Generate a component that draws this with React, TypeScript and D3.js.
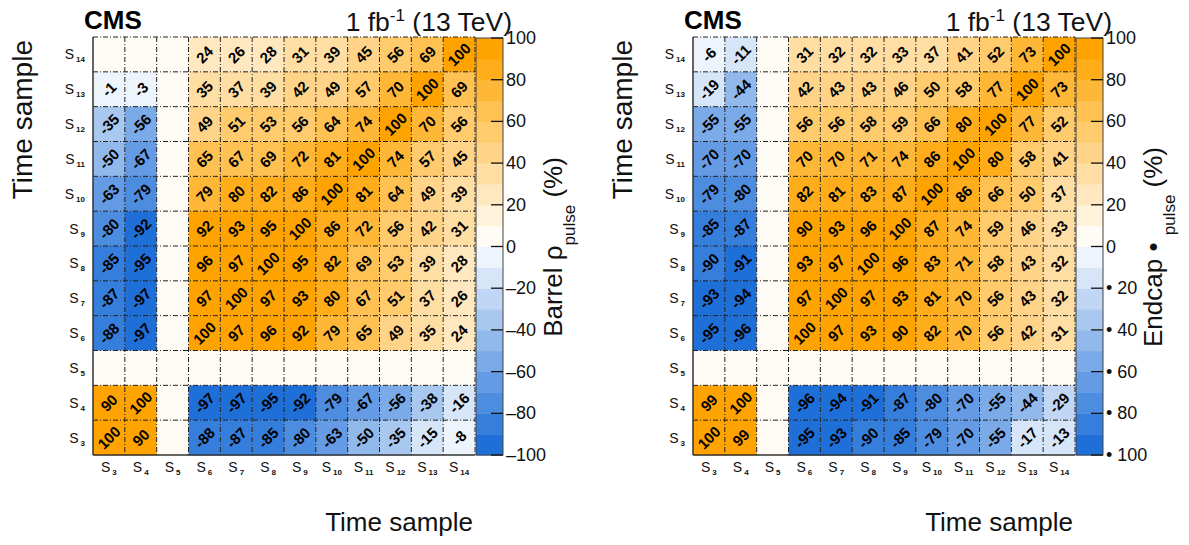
import React from "react";
import * as d3 from "d3";

// ---------- data ----------
const TIME_SAMPLES = ["3", "4", "5", "6", "7", "8", "9", "10", "11", "12", "13", "14"];
const ROWS_TOP_DOWN = [...TIME_SAMPLES].reverse();

// rows from S14 (top) to S3 (bottom), columns S3..S14
const BARREL_VALUES: number[][] = [
  [0, 0, 0, 24, 26, 28, 31, 39, 45, 56, 69, 100],
  [-1, -3, 0, 35, 37, 39, 42, 49, 57, 70, 100, 69],
  [-35, -56, 0, 49, 51, 53, 56, 64, 74, 100, 70, 56],
  [-50, -67, 0, 65, 67, 69, 72, 81, 100, 74, 57, 45],
  [-63, -79, 0, 79, 80, 82, 86, 100, 81, 64, 49, 39],
  [-80, -92, 0, 92, 93, 95, 100, 86, 72, 56, 42, 31],
  [-85, -95, 0, 96, 97, 100, 95, 82, 69, 53, 39, 28],
  [-87, -97, 0, 97, 100, 97, 93, 80, 67, 51, 37, 26],
  [-88, -97, 0, 100, 97, 96, 92, 79, 65, 49, 35, 24],
  [0, 0, 0, 0, 0, 0, 0, 0, 0, 0, 0, 0],
  [90, 100, 0, -97, -97, -95, -92, -79, -67, -56, -38, -16],
  [100, 90, 0, -88, -87, -85, -80, -63, -50, -35, -15, -8],
];

const ENDCAP_VALUES: number[][] = [
  [-6, -11, 0, 31, 32, 32, 33, 37, 41, 52, 73, 100],
  [-19, -44, 0, 42, 43, 43, 46, 50, 58, 77, 100, 73],
  [-55, -55, 0, 56, 56, 58, 59, 66, 80, 100, 77, 52],
  [-70, -70, 0, 70, 70, 71, 74, 86, 100, 80, 58, 41],
  [-79, -80, 0, 82, 81, 83, 87, 100, 86, 66, 50, 37],
  [-85, -87, 0, 90, 93, 96, 100, 87, 74, 59, 46, 33],
  [-90, -91, 0, 93, 97, 100, 96, 83, 71, 58, 43, 32],
  [-93, -94, 0, 97, 100, 97, 93, 81, 70, 56, 43, 32],
  [-95, -96, 0, 100, 97, 93, 90, 82, 70, 56, 42, 31],
  [0, 0, 0, 0, 0, 0, 0, 0, 0, 0, 0, 0],
  [99, 100, 0, -96, -94, -91, -87, -80, -70, -55, -44, -29],
  [100, 99, 0, -95, -93, -90, -85, -79, -70, -55, -17, -13],
];

const COLORBAR_TICKS = [100, 80, 60, 40, 20, 0, -20, -40, -60, -80, -100];
const BIN_STARTS = d3.range(-100, 100, 10);

const FONT = "'Liberation Sans', Arial, Helvetica, sans-serif";

const posColor = d3.interpolateRgb("#fffcf6", "#ffa300");
const negColor = d3.interpolateRgb("#eef4fc", "#1f6fd8");
function binColor(v: number): string {
  const b = Math.max(-10, Math.min(9, Math.floor(v / 10)));
  return b >= 0 ? posColor(b / 9) : negColor((-b - 1) / 9);
}

type PanelProps = {
  ox: number;
  values: number[][];
  titleMain: string;
  negLabel: (n: number) => string;
};

function Panel({ ox, values, titleMain, negLabel }: PanelProps) {
  const x0 = ox + 93, x1 = ox + 475, y0 = 37, y1 = 455;
  const xs = d3.scaleBand<string>().domain(TIME_SAMPLES).range([x0, x1]);
  const ys = d3.scaleBand<string>().domain(ROWS_TOP_DOWN).range([y0, y1]);
  const cbL = ox + 476, cbR = ox + 503;
  const cs = d3.scaleLinear().domain([-100, 100]).range([455, 38]);
  const dash = "5 2 1 2";
  const bw = xs.bandwidth(), bh = ys.bandwidth();

  return (
    <g fontFamily={FONT}>
      {/* cells */}
      {values.map((row, ri) =>
        row.map((v, ci) => (
          <rect
            key={`c${ri}-${ci}`}
            x={xs(TIME_SAMPLES[ci])!}
            y={ys(ROWS_TOP_DOWN[ri])!}
            width={bw + 0.5}
            height={bh + 0.5}
            fill={binColor(v)}
          />
        ))
      )}
      {/* grid lines */}
      {TIME_SAMPLES.slice(1).map((s) => (
        <line key={`vx${s}`} x1={xs(s)!} x2={xs(s)!} y1={y0} y2={y1} stroke="#222" strokeWidth={1} strokeDasharray={dash} />
      ))}
      {ROWS_TOP_DOWN.slice(1).map((s) => (
        <line key={`hy${s}`} x1={x0} x2={x1} y1={ys(s)!} y2={ys(s)!} stroke="#222" strokeWidth={1} strokeDasharray={dash} />
      ))}
      <line x1={x0} x2={x1} y1={y0} y2={y0} stroke="#222" strokeWidth={1} strokeDasharray={dash} />
      <line x1={x1} x2={x1} y1={y0} y2={y1} stroke="#222" strokeWidth={1} strokeDasharray={dash} />
      <line x1={x0} x2={x0} y1={y0} y2={y1} stroke="#333" strokeWidth={1.5} />
      <line x1={x0} x2={x1} y1={y1} y2={y1} stroke="#333" strokeWidth={1.5} />
      {/* cell texts */}
      {values.map((row, ri) =>
        row.map((v, ci) => {
          if (v === 0) return null;
          const cx = xs(TIME_SAMPLES[ci])! + bw / 2;
          const cy = ys(ROWS_TOP_DOWN[ri])! + bh / 2;
          return (
            <text
              key={`t${ri}-${ci}`}
              transform={`translate(${cx},${cy}) rotate(-45)`}
              textAnchor="middle"
              dominantBaseline="central"
              fontSize={15}
              fontWeight="bold"
              fill="#000"
            >
              {String(v)}
            </text>
          );
        })
      )}
      {/* y tick labels */}
      {ROWS_TOP_DOWN.map((s) => (
        <text key={`yl${s}`} x={ox + 85} y={ys(s)! + bh / 2 + 5} textAnchor="end" fontSize={14} fill="#111">
          S<tspan fontSize={8} fontWeight="bold" dx={2} dy={3}>{s}</tspan>
        </text>
      ))}
      {/* x tick labels */}
      {TIME_SAMPLES.map((s) => (
        <text key={`xl${s}`} x={xs(s)! + bw / 2} y={472} textAnchor="middle" fontSize={14} fill="#111">
          S<tspan fontSize={8} fontWeight="bold" dx={2} dy={3}>{s}</tspan>
        </text>
      ))}
      {/* colorbar */}
      {BIN_STARTS.map((b) => (
        <rect key={`cb${b}`} x={cbL} y={cs(b + 10)} width={cbR - cbL} height={cs(b) - cs(b + 10) + 0.5} fill={binColor(b + 5)} />
      ))}
      <rect x={cbL} y={cs(100)} width={cbR - cbL} height={cs(-100) - cs(100)} fill="none" stroke="#444" strokeWidth={1} />
      {COLORBAR_TICKS.map((t) => (
        <g key={`tk${t}`}>
          <line x1={cbR - 12} x2={cbR} y1={cs(t)} y2={cs(t)} stroke="#111" strokeWidth={1.3} />
          <text x={cbR + 3} y={cs(t)} dominantBaseline="central" fontSize={18} fill="#111">
            {t < 0 ? negLabel(-t) : String(t)}
          </text>
        </g>
      ))}
      {/* colorbar title */}
      <text transform={`translate(${ox + 562},247) rotate(-90)`} textAnchor="middle" fontSize={26} fill="#111">
        {titleMain}
        <tspan fontSize={17} dy={13}>pulse</tspan>
        <tspan dy={-13}> (%)</tspan>
      </text>
      {/* headers */}
      <text x={ox + 84} y={29} fontSize={26} fontWeight="bold" fill="#000">CMS</text>
      <text x={ox + 512} y={30.5} textAnchor="end" fontSize={26.5} fill="#111">
        1 fb<tspan fontSize={17} dy={-10}>-1</tspan>
        <tspan dy={10}> (13 TeV)</tspan>
      </text>
      {/* axis titles */}
      <text transform={`translate(${ox + 32},40) rotate(-90)`} textAnchor="end" fontSize={28} fill="#111">
        Time sample
      </text>
      <text x={ox + 473} y={531} textAnchor="end" fontSize={26} fill="#111">
        Time sample
      </text>
    </g>
  );
}

export default function App() {
  return (
    <svg
      width={1189}
      height={545}
      style={{ position: "absolute", left: 0, top: 0, background: "#fff" }}
    >
      <rect x={0} y={0} width={1189} height={545} fill="#fff" />
      <Panel ox={0} values={BARREL_VALUES} titleMain={"Barrel \u03c1"} negLabel={(n) => `\u2013${n}`} />
      <Panel ox={600} values={ENDCAP_VALUES} titleMain={"Endcap  \u2022 "} negLabel={(n) => `\u2022 ${n}`} />
    </svg>
  );
}
